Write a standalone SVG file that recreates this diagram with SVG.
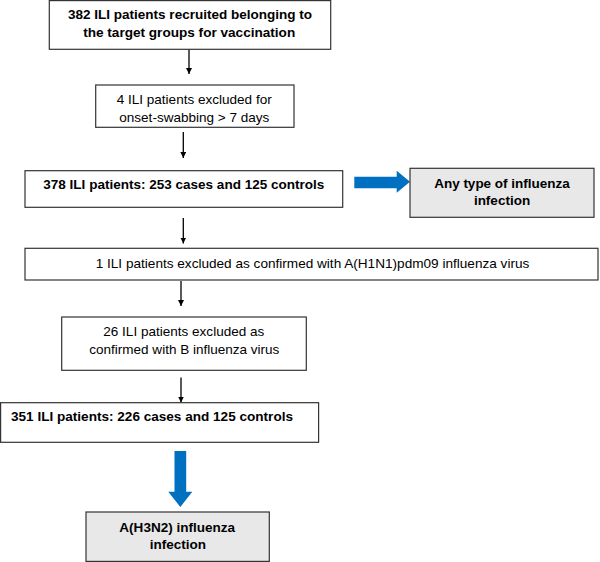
<svg xmlns="http://www.w3.org/2000/svg" width="600" height="562" viewBox="0 0 600 562">
<defs>
<style>
.box{fill:#fff;stroke:#333;stroke-width:1.2}
.grey{fill:#e8e8e8;stroke:#333;stroke-width:1.2}
text{font-family:"Liberation Sans",Arial,sans-serif;font-size:13.5px;fill:#000}
.b{font-weight:bold}
.c{text-anchor:middle}
.ln{stroke:#000;stroke-width:1.3;fill:none;marker-end:url(#ah)}
.blue{fill:#0070c0}
</style>
<marker id="ah" viewBox="0 0 10 10" refX="10" refY="5" markerWidth="6" markerHeight="6" orient="auto" markerUnits="userSpaceOnUse">
<path d="M0,0 L10,5 L0,10 z" fill="#000"/>
</marker>
</defs>
<g id="connectors">
<line class="ln" x1="189" y1="49" x2="189" y2="74"/>
<line class="ln" x1="183.3" y1="132" x2="183.3" y2="158"/>
<line class="ln" x1="183.3" y1="218" x2="183.3" y2="243.5"/>
<line class="ln" x1="181" y1="281" x2="181" y2="306"/>
<line class="ln" x1="181" y1="377.5" x2="181" y2="402.5"/>
<path class="blue" d="M354.3,176.7 L396.7,176.7 L396.7,170.7 L410,181.7 L396.7,192.7 L396.7,188.3 L354.3,188.3 Z"/>
<path class="blue" d="M174.5,451 L186.2,451 L186.2,491.7 L192.3,491.7 L180.3,507 L168.3,491.7 L174.5,491.7 Z"/>
</g>
<g id="n1"><rect class="box" x="49.3" y="0.6" width="281.4" height="48.7"/>
<text class="b c" x="190" y="19" textLength="244" lengthAdjust="spacingAndGlyphs">382 ILI patients recruited belonging to</text>
<text class="b c" x="189.2" y="37" textLength="212" lengthAdjust="spacingAndGlyphs">the target groups for vaccination</text></g>
<g id="n2"><rect class="box" x="95.7" y="85" width="198.3" height="42.3"/>
<text class="c" x="194.2" y="104" textLength="155" lengthAdjust="spacingAndGlyphs">4 ILI patients excluded for</text>
<text class="c" x="194.3" y="121.5" textLength="150" lengthAdjust="spacingAndGlyphs">onset-swabbing &gt; 7 days</text></g>
<g id="n3"><rect class="box" x="25" y="170.7" width="317.7" height="36.6"/>
<text class="b c" x="183.8" y="189.2" textLength="281" lengthAdjust="spacingAndGlyphs">378 ILI patients: 253 cases and 125 controls</text></g>
<g id="n4"><rect class="grey" x="410" y="168.3" width="184" height="49"/>
<text class="b c" x="502" y="187.5" textLength="135.7" lengthAdjust="spacingAndGlyphs">Any type of influenza</text>
<text class="b c" x="502" y="205">infection</text></g>
<g id="n5"><rect class="box" x="25" y="248.3" width="573" height="31.7"/>
<text class="c" x="312.5" y="267.5" textLength="433.6" lengthAdjust="spacingAndGlyphs">1 ILI patients excluded as confirmed with A(H1N1)pdm09 influenza virus</text></g>
<g id="n6"><rect class="box" x="61.7" y="317" width="244.6" height="53.3"/>
<text class="c" x="183.8" y="336" textLength="161" lengthAdjust="spacingAndGlyphs">26 ILI patients excluded as</text>
<text class="c" x="184.3" y="354" textLength="190" lengthAdjust="spacingAndGlyphs">confirmed with B influenza virus</text></g>
<g id="n7"><rect class="box" x="0.6" y="402.7" width="318" height="39.6"/>
<text class="b" x="11" y="421" textLength="282" lengthAdjust="spacingAndGlyphs">351 ILI patients: 226 cases and 125 controls</text></g>
<g id="n8"><rect class="grey" x="86" y="512" width="183.3" height="49.4"/>
<text class="b c" x="177.2" y="531.5" textLength="115.7" lengthAdjust="spacingAndGlyphs">A(H3N2) influenza</text>
<text class="b c" x="177.8" y="549.3">infection</text></g>
</svg>
